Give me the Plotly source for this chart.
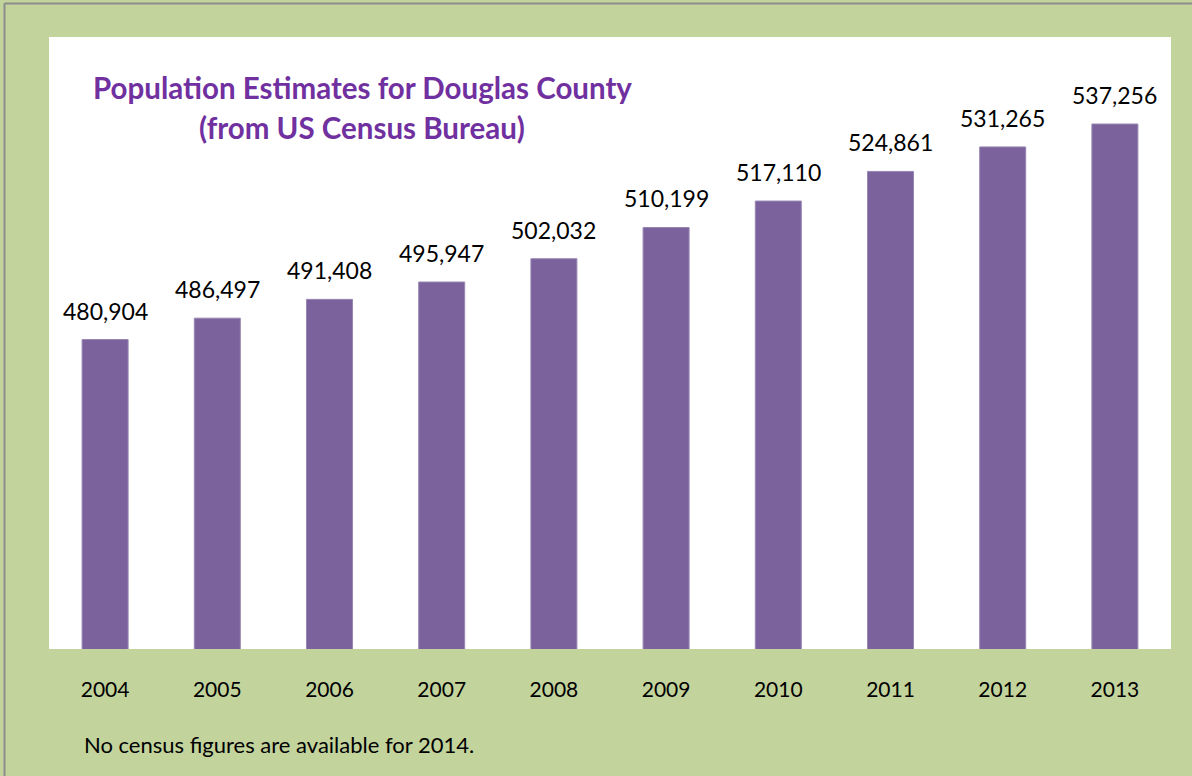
import plotly.graph_objects as go

years = ["2004", "2005", "2006", "2007", "2008", "2009", "2010", "2011", "2012", "2013"]
population = [480904, 486497, 491408, 495947, 502032, 510199, 517110, 524861, 531265, 537256]
title_lines = ["Population Estimates for Douglas County", "(from US Census Bureau)"]
footnote = "No census figures are available for 2014."

BAR = "#7b629c"
GREEN = "#c2d39c"
PURPLE = "#7030a0"
FONT = "Lato"

W, H = 1192, 776
L, R, T, B = 49, 21, 37, 127
pw, ph = W - L - R, H - T - B

def px(x):
    return (x - L) / pw

def py(y):
    return (H - B - y) / ph

fig = go.Figure()
fig.add_trace(go.Bar(
    x=years, y=population, width=0.41,
    marker=dict(color=BAR, line=dict(color="#9887b3", width=1)),
    hoverinfo="x+y",
))

for i, v in enumerate(population):
    fig.add_annotation(x=i, y=v, text=f"{v:,}", showarrow=False,
                       yanchor="bottom", yshift=13,
                       font=dict(family=FONT, size=23, color="#000000"))

fig.add_annotation(xref="paper", yref="paper", x=px(362), y=py(87), text=f"<b>{title_lines[0]}</b>",
                   showarrow=False, xanchor="center", yanchor="middle",
                   font=dict(family=FONT, size=29.5, color=PURPLE))
fig.add_annotation(xref="paper", yref="paper", x=px(362), y=py(127), text=f"<b>{title_lines[1]}</b>",
                   showarrow=False, xanchor="center", yanchor="middle",
                   font=dict(family=FONT, size=29.5, color=PURPLE))
fig.add_annotation(xref="paper", yref="paper", x=px(82), y=py(745), text=footnote,
                   showarrow=False, xanchor="left", yanchor="middle",
                   font=dict(family=FONT, size=22, color="#000000"))

# gray frame lines on top and left
fig.add_shape(type="line", xref="paper", yref="paper", x0=px(4.5), x1=px(W + 5), y0=py(3.5), y1=py(3.5),
              line=dict(color="#8c8c8c", width=2))
fig.add_shape(type="line", xref="paper", yref="paper", x0=px(4.5), x1=px(4.5), y0=py(3.5), y1=py(H + 5),
              line=dict(color="#8c8c8c", width=2))

fig.update_layout(
    width=W, height=H,
    margin=dict(l=L, r=R, t=T, b=B, pad=0),
    paper_bgcolor=GREEN, plot_bgcolor="white",
    showlegend=False,
    font=dict(family=FONT, color="#000000"),
)
fig.update_xaxes(type="category", range=[-0.5, len(years) - 0.5], showline=False, showgrid=False,
                 ticks="", ticklabelstandoff=26,
                 tickfont=dict(family=FONT, size=21, color="#000000"))
fig.update_yaxes(range=[400000, 560000], showgrid=False, showticklabels=False,
                 zeroline=False, showline=False, ticks="")

fig.write_html("out.html", config={"displayModeBar": False},
               post_script="document.body.style.margin='0';document.body.style.overflow='hidden';")
